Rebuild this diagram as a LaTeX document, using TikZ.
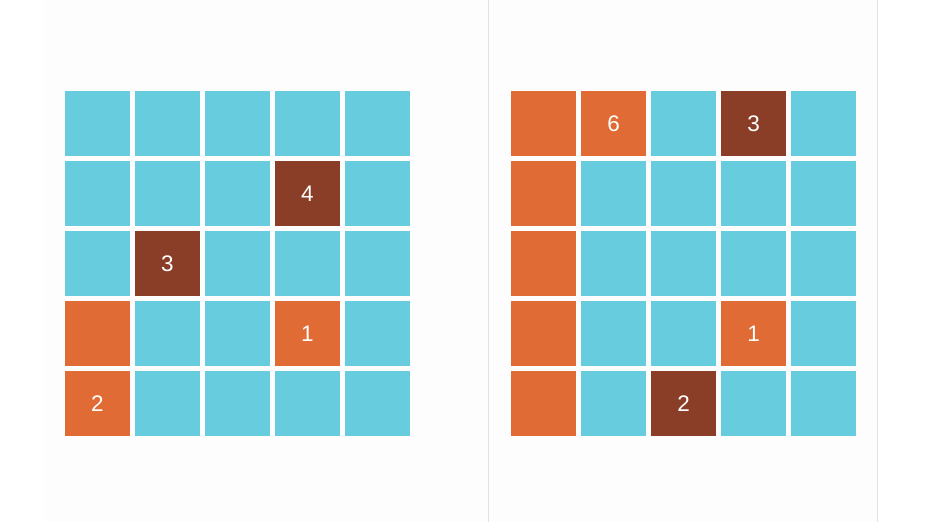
\documentclass[tikz,border=0pt]{standalone}
\usepackage{fontspec}
\setmainfont{Liberation Sans}
\usepackage{tikz}
\usetikzlibrary{positioning}
\definecolor{tilecyan}{HTML}{67CCDE}
\definecolor{tileorange}{HTML}{E06B34}
\definecolor{tilebrown}{HTML}{8B3E27}
\definecolor{panelgray}{HTML}{FDFDFD}
\definecolor{rulegray}{HTML}{E2E2E2}
\tikzset{cell/.style={rectangle,minimum size=65pt,inner sep=0pt,outer sep=0pt,text=white,font=\fontsize{22.5}{22.5}\selectfont},
  sea/.style={cell,fill=tilecyan},
  hot/.style={cell,fill=tileorange},
  deep/.style={cell,fill=tilebrown}}

\begin{document}
\begin{tikzpicture}[x=1pt,y=-1pt]
    \useasboundingbox (0,0) rectangle (928,522);
    \fill[panelgray] (44,0) rectangle (877,522);
    \coordinate (ltop) at (488.5,0);
    \coordinate (lbot) at (488.5,522);
    \coordinate (rtop) at (877.5,0);
    \coordinate (rbot) at (877.5,522);
    \draw [rulegray,line width=1.5pt] (ltop) to (lbot);
    \draw [rulegray,line width=1.5pt] (rtop) to (rbot);

    % left board
    \node[sea] (l00) at (97.5,123.5) {};
    \node[sea] (l01) at (167.5,123.5) {};
    \node[sea] (l02) at (237.5,123.5) {};
    \node[sea] (l03) at (307.5,123.5) {};
    \node[sea] (l04) at (377.5,123.5) {};
    \node[sea] (l10) at (97.5,193.5) {};
    \node[sea] (l11) at (167.5,193.5) {};
    \node[sea] (l12) at (237.5,193.5) {};
    \node[deep] (l13) at (307.5,193.5) {4};
    \node[sea] (l14) at (377.5,193.5) {};
    \node[sea] (l20) at (97.5,263.5) {};
    \node[deep] (l21) at (167.5,263.5) {3};
    \node[sea] (l22) at (237.5,263.5) {};
    \node[sea] (l23) at (307.5,263.5) {};
    \node[sea] (l24) at (377.5,263.5) {};
    \node[hot] (l30) at (97.5,333.5) {};
    \node[sea] (l31) at (167.5,333.5) {};
    \node[sea] (l32) at (237.5,333.5) {};
    \node[hot] (l33) at (307.5,333.5) {1};
    \node[sea] (l34) at (377.5,333.5) {};
    \node[hot] (l40) at (97.5,403.5) {2};
    \node[sea] (l41) at (167.5,403.5) {};
    \node[sea] (l42) at (237.5,403.5) {};
    \node[sea] (l43) at (307.5,403.5) {};
    \node[sea] (l44) at (377.5,403.5) {};

    % right board
    \node[hot] (r00) at (543.5,123.5) {};
    \node[hot] (r01) at (613.5,123.5) {6};
    \node[sea] (r02) at (683.5,123.5) {};
    \node[deep] (r03) at (753.5,123.5) {3};
    \node[sea] (r04) at (823.5,123.5) {};
    \node[hot] (r10) at (543.5,193.5) {};
    \node[sea] (r11) at (613.5,193.5) {};
    \node[sea] (r12) at (683.5,193.5) {};
    \node[sea] (r13) at (753.5,193.5) {};
    \node[sea] (r14) at (823.5,193.5) {};
    \node[hot] (r20) at (543.5,263.5) {};
    \node[sea] (r21) at (613.5,263.5) {};
    \node[sea] (r22) at (683.5,263.5) {};
    \node[sea] (r23) at (753.5,263.5) {};
    \node[sea] (r24) at (823.5,263.5) {};
    \node[hot] (r30) at (543.5,333.5) {};
    \node[sea] (r31) at (613.5,333.5) {};
    \node[sea] (r32) at (683.5,333.5) {};
    \node[hot] (r33) at (753.5,333.5) {1};
    \node[sea] (r34) at (823.5,333.5) {};
    \node[hot] (r40) at (543.5,403.5) {};
    \node[sea] (r41) at (613.5,403.5) {};
    \node[deep] (r42) at (683.5,403.5) {2};
    \node[sea] (r43) at (753.5,403.5) {};
    \node[sea] (r44) at (823.5,403.5) {};
\end{tikzpicture}
\end{document}
